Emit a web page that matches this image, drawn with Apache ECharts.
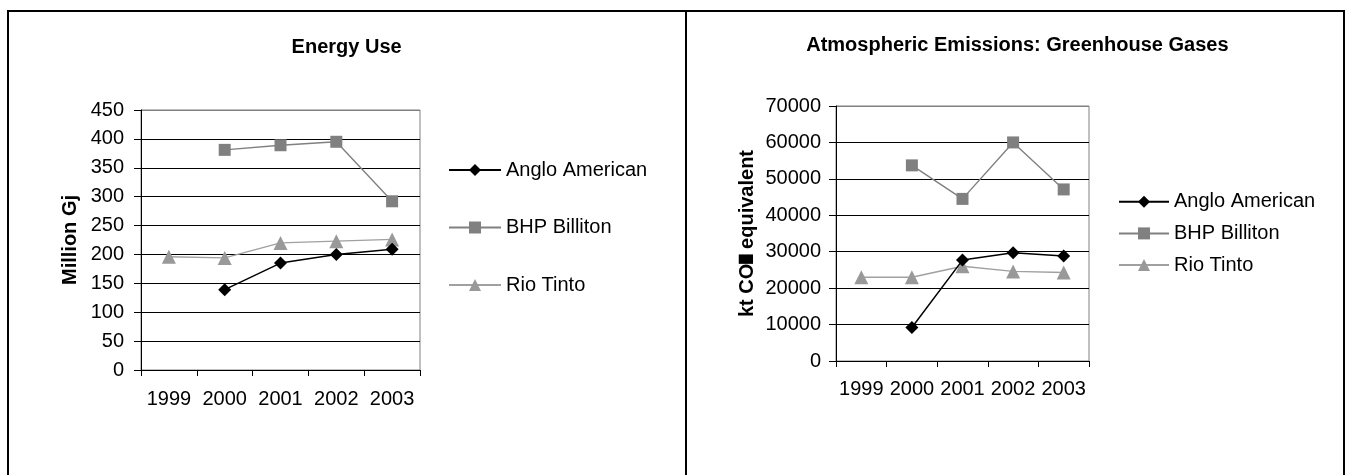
<!DOCTYPE html>
<html>
<head>
<meta charset="utf-8">
<script src="https://cdn.jsdelivr.net/npm/echarts@6/dist/echarts.min.js"></script>
<style>
html,body{margin:0;padding:0;background:#fff;}
#c{width:1351px;height:475px;}
</style>
</head>
<body>
<div id="c"></div>
<script>
// ---- data ----
const years = ['1999', '2000', '2001', '2002', '2003'];
const seriesNames = ['Anglo American', 'BHP Billiton', 'Rio Tinto'];

const energyAnglo = [null, 139, 185, 200, 209];
const energyBHP   = [null, 381, 389, 395, 292];
const energyRio   = [196, 194, 220, 223, 226];

const ghgAnglo = [null, 9200, 27700, 29700, 28800];
const ghgBHP   = [null, 53700, 44500, 60000, 47100];
const ghgRio   = [23000, 23000, 26000, 24600, 24300];

const energyTicks = { min: 0, max: 450, interval: 50 };
const ghgTicks = { min: 0, max: 70000, interval: 10000 };

const titles = ['Energy Use', 'Atmospheric Emissions: Greenhouse Gases'];
const yNames = ['Million Gj', 'kt CO'];

// ---- styles ----
const FONT = 'Liberation Sans, Arial, sans-serif';
const styles = [
  { color: '#000000', lineColor: '#000000', symbol: 'diamond', size: 13, width: 1.5 },
  { color: '#808080', lineColor: '#808080', symbol: 'rect', size: 12, width: 1.4 },
  { color: '#999999', lineColor: '#a0a0a0', symbol: 'triangle', size: 14, width: 1.4 }
];

function mkSeries(name, data, idx, si) {
  const s = styles[si];
  return {
    name: name, type: 'line', xAxisIndex: idx, yAxisIndex: idx,
    data: data, connectNulls: false,
    symbol: s.symbol, symbolSize: s.size, showSymbol: true,
    lineStyle: { color: s.lineColor, width: s.width },
    itemStyle: { color: s.color },
    emphasis: { disabled: true }, z: 3 + (2 - si)
  };
}

function splitColors(n) {
  const arr = [];
  for (let i = 0; i < n; i++) arr.push('#000000');
  arr[n - 1] = '#808080';
  return arr;
}

function mkX(idx, labelMargin) {
  return {
    type: 'category', gridIndex: idx, data: years, boundaryGap: true,
    axisLine: { show: true, lineStyle: { color: '#000', width: 1 } },
    axisTick: { show: true, inside: false, length: 6, alignWithLabel: false, interval: 0, lineStyle: { color: '#000' } },
    axisLabel: { interval: 0, margin: labelMargin, color: '#000', fontSize: 20, fontFamily: FONT },
    splitLine: { show: false }
  };
}

function mkY(idx, ticks, name, nameGap, labelMargin, nameRich) {
  const n = Math.round((ticks.max - ticks.min) / ticks.interval) + 1;
  const y = {
    type: 'value', gridIndex: idx, min: ticks.min, max: ticks.max, interval: ticks.interval,
    name: name, nameLocation: 'middle', nameGap: nameGap, nameRotate: 90,
    nameTextStyle: { color: '#000', fontSize: 20, fontWeight: 'bold', fontFamily: FONT },
    axisLine: { show: true, lineStyle: { color: '#000', width: 1 } },
    axisTick: { show: true, inside: false, length: 7, lineStyle: { color: '#000' } },
    axisLabel: { margin: labelMargin, color: '#000', fontSize: 20, fontFamily: FONT,
      formatter: function (v) { return String(v); } },
    splitLine: { show: true, lineStyle: { color: splitColors(n), width: 1 } }
  };
  if (nameRich) {
    y.name = '{a|' + name + '}{b|\u2588}{a| equivalent}';
    y.nameTextStyle.rich = {
      a: { color: '#000', fontSize: 20, fontWeight: 'bold', fontFamily: FONT },
      b: { color: '#000', fontSize: 12, fontFamily: 'DejaVu Sans', padding: [0, 0, 0, 0] }
    };
  }
  return y;
}

const chart = echarts.init(document.getElementById('c'), null, { renderer: 'canvas' });

const option = {
  animation: false,
  backgroundColor: '#ffffff',
  textStyle: { fontFamily: FONT },
  title: [
    { text: titles[0], left: 346.6, top: 37, textAlign: 'center', padding: 0,
      textStyle: { color: '#000', fontSize: 20, fontWeight: 'bold', fontFamily: FONT } },
    { text: titles[1], left: 1017.4, top: 35, textAlign: 'center', padding: 0,
      textStyle: { color: '#000', fontSize: 20, fontWeight: 'bold', fontFamily: FONT } }
  ],
  grid: [
    { left: 141, right: 931, top: 110, bottom: 105, show: true, borderColor: '#808080', borderWidth: 1, backgroundColor: 'transparent', containLabel: false },
    { left: 836, right: 262, top: 106, bottom: 114, show: true, borderColor: '#808080', borderWidth: 1, backgroundColor: 'transparent', containLabel: false }
  ],
  legend: [
    { data: seriesNames, orient: 'vertical', left: 448, top: 160, itemWidth: 52, itemHeight: 15, itemGap: 37.5, padding: 0,
      selectedMode: false, textStyle: { color: '#000', fontSize: 20, fontFamily: FONT } },
    { data: seriesNames, orient: 'vertical', left: 1118, top: 191.7, itemWidth: 50, itemHeight: 15, itemGap: 11.7, padding: 0,
      selectedMode: false, textStyle: { color: '#000', fontSize: 20, fontFamily: FONT } }
  ],
  xAxis: [mkX(0, 19.5), mkX(1, 18.3)],
  yAxis: [
    mkY(0, energyTicks, yNames[0], 61, 17, false),
    mkY(1, ghgTicks, yNames[1], 79, 15, true)
  ],
  series: [
    mkSeries(seriesNames[0], energyAnglo, 0, 0),
    mkSeries(seriesNames[1], energyBHP, 0, 1),
    mkSeries(seriesNames[2], energyRio, 0, 2),
    mkSeries(seriesNames[0], ghgAnglo, 1, 0),
    mkSeries(seriesNames[1], ghgBHP, 1, 1),
    mkSeries(seriesNames[2], ghgRio, 1, 2)
  ],
  graphic: [
    { type: 'rect', silent: true, z: 100,
      shape: { x: 8, y: 11, width: 1336, height: 480 },
      style: { fill: 'none', stroke: '#000', lineWidth: 2 } },
    { type: 'line', silent: true, z: 100,
      shape: { x1: 686, y1: 11, x2: 686, y2: 480 },
      style: { stroke: '#000', lineWidth: 2 } }
  ]
};

chart.setOption(option);
</script>
</body>
</html>
